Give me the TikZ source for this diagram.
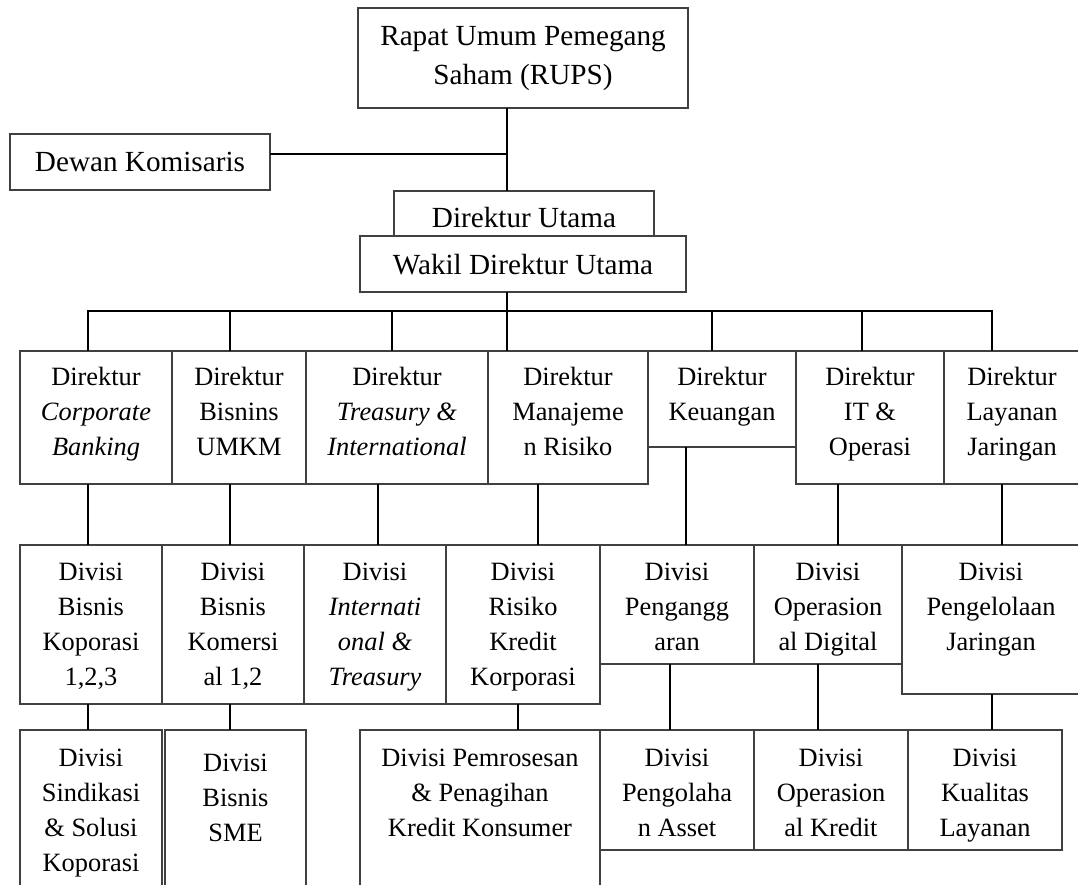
\documentclass[tikz,border=0pt]{standalone}
\usepackage{fontspec}
\setmainfont{Liberation Serif}
\usetikzlibrary{calc}

% one box of the chart: text set from the top, centred line by line
% #1 name, #2 x, #3 y, #4 width, #5 height, #6 first baseline, #7 font, #8 text
\newcommand\orgbox[8]{%
  \node[unit] (#1) at (#2,#3)
    {\parbox[c][#5pt][t]{#4pt}{#7\centering\rule{0pt}{#6pt}#8\par}};}
% vertical link from the foot of one box to the head of the next
\newcommand\drop[3]{%
  \draw[link] ([xshift=#3pt]#1.south west) -- ([xshift=#3pt]#1.south west |- #2.north);}

\newcommand\bigfont{\fontsize{29.2pt}{39pt}\selectfont}
\newcommand\smallfont{\fontsize{26.4pt}{35pt}\selectfont}

\begin{document}
\begin{tikzpicture}[x=1pt,y=-1pt,
  unit/.style={draw=black!75, line width=1.1pt, fill=white,
               inner sep=0pt, outer sep=0pt, anchor=north west},
  link/.style={draw=black, line width=1.9pt}]
\useasboundingbox (0,0) rectangle (1078,885);
\fill[white] (0,0) rectangle (1078,885);
\clip (0,0) rectangle (1078,885);

% board level
\orgbox{rups}{358}{8}{330}{100}{38}{\bigfont}{Rapat Umum Pemegang\\Saham (RUPS)}
\orgbox{dk}{10}{134}{260}{56}{38}{\bigfont}{Dewan Komisaris}
\orgbox{du}{394}{191}{260}{60}{37}{\bigfont}{Direktur Utama}
\orgbox{wakil}{360}{236}{326}{56}{38}{\bigfont}{Wakil Direktur Utama}

% directors
\orgbox{corp}{20}{351}{152}{133}{34.5}{\smallfont}{Direktur\\\textit{Corporate}\\\textit{Banking}}
\orgbox{umkm}{172}{351}{134}{133}{34.5}{\smallfont}{Direktur\\Bisnins\\UMKM}
\orgbox{treas}{306}{351}{182}{133}{34.5}{\smallfont}{Direktur\\\textit{Treasury \&}\\\textit{International}}
\orgbox{manaj}{488}{351}{160}{133}{34.5}{\smallfont}{Direktur\\Manajeme\\n Risiko}
\orgbox{keu}{648}{351}{148}{96}{34.5}{\smallfont}{Direktur\\Keuangan}
\orgbox{it}{796}{351}{148}{133}{34.5}{\smallfont}{Direktur\\IT \&\\Operasi}
\orgbox{layan}{944}{351}{136}{133}{34.5}{\smallfont}{Direktur\\Layanan\\Jaringan}

% first row of divisions
\orgbox{dbk}{20}{545}{142}{159}{35}{\smallfont}{Divisi\\Bisnis\\Koporasi\\1,2,3}
\orgbox{dkom}{162}{545}{142}{159}{35}{\smallfont}{Divisi\\Bisnis\\Komersi\\al 1,2}
\orgbox{dint}{304}{545}{142}{159}{35}{\smallfont}{Divisi\\\textit{Internati}\\\textit{onal \&}\\\textit{Treasury}}
\orgbox{drk}{446}{545}{154}{159}{35}{\smallfont}{Divisi\\Risiko\\Kredit\\Korporasi}
\orgbox{dang}{600}{545}{154}{119}{35}{\smallfont}{Divisi\\Pengangg\\aran}
\orgbox{dod}{754}{545}{148}{119}{35}{\smallfont}{Divisi\\Operasion\\al Digital}
\orgbox{dpj}{902}{545}{178}{149}{35}{\smallfont}{Divisi\\Pengelolaan\\Jaringan}

% second row of divisions
\orgbox{sind}{20}{730}{142}{175}{36}{\smallfont}{Divisi\\Sindikasi\\\& Solusi\\Koporasi}
\orgbox{sme}{165}{730}{141}{175}{41}{\smallfont}{Divisi\\Bisnis\\SME}
\orgbox{pem}{360}{730}{240}{175}{36}{\smallfont}{Divisi Pemrosesan\\\& Penagihan\\Kredit Konsumer}
\orgbox{peng}{600}{730}{154}{120}{36}{\smallfont}{Divisi\\Pengolaha\\n Asset}
\orgbox{opk}{754}{730}{154}{120}{36}{\smallfont}{Divisi\\Operasion\\al Kredit}
\orgbox{kual}{908}{730}{154}{120}{36}{\smallfont}{Divisi\\Kualitas\\Layanan}

% main trunk and the board links
\coordinate (junction) at (507,311);
\draw[link] (rups.south -| junction) -- (du.north -| junction);
\draw[link] ([yshift=8pt]dk.east) -- ([yshift=8pt]dk.east -| junction);
\draw[link] (wakil.south -| junction) -- (manaj.north -| junction);

% bus to the directors
\draw[link] ([xshift=68pt]corp.north west) |- (junction) -| ([xshift=48pt]layan.north west);
\draw[link] ([xshift=58pt]umkm.north west) -- ([xshift=58pt]umkm.north west |- junction);
\draw[link] ([xshift=86pt]treas.north west) -- ([xshift=86pt]treas.north west |- junction);
\draw[link] ([xshift=64pt]keu.north west) -- ([xshift=64pt]keu.north west |- junction);
\draw[link] ([xshift=66pt]it.north west) -- ([xshift=66pt]it.north west |- junction);

% directors to divisions
\drop{corp}{dbk}{68}
\drop{umkm}{dkom}{58}
\drop{treas}{dint}{72}
\drop{manaj}{drk}{50}
\drop{keu}{dang}{38}
\drop{it}{dod}{42}
\drop{layan}{dpj}{58}

% divisions to divisions
\drop{dbk}{sind}{68}
\drop{dkom}{sme}{68}
\drop{drk}{pem}{72}
\drop{dang}{peng}{70}
\drop{dod}{opk}{64}
\drop{dpj}{kual}{90}
\end{tikzpicture}
\end{document}
